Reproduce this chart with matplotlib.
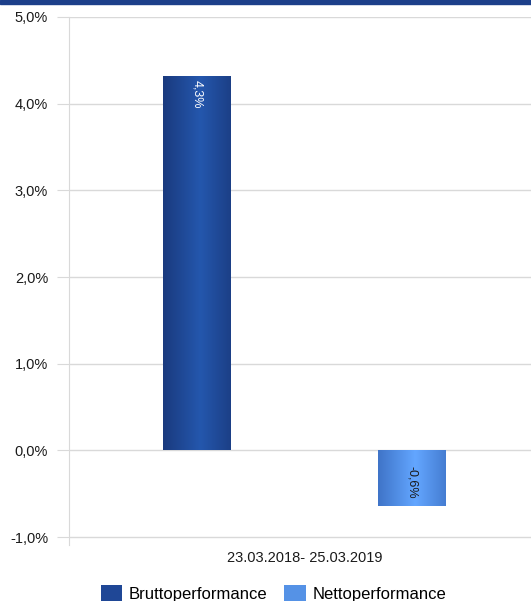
import numpy as np
import matplotlib
matplotlib.use("Agg")
import matplotlib.pyplot as plt
from matplotlib.colors import LinearSegmentedColormap
from matplotlib.patches import Patch, Rectangle

# Werte
period = "23.03.2018- 25.03.2019"
series = ["Bruttoperformance", "Nettoperformance"]
values = [4.32, -0.64]
yticks = [-1, 0, 1, 2, 3, 4, 5]

edge_cols = ["#1a3a7e", "#3f74c8"]
mid_cols = ["#2457ad", "#63a6ff"]
label_cols = ["white", "#1a1a1a"]
offsets = [-0.229, 0.226]
width = 0.142

plt.rcParams['font.family'] = ['Liberation Sans', 'DejaVu Sans']

fig = plt.figure(figsize=(5.31, 6.01), dpi=100)
ax = fig.add_axes([69/531, 56/601, 472/531, 528/601])

# dunkelblauer Balken oben
fig.patches.append(Rectangle((0, 1 - 4/601), 1, 4/601, transform=fig.transFigure,
                             color="#1c3f8a", zorder=0))

grad = np.linspace(0, 1, 200)
grad = 1 - np.abs(grad - 0.55) / 0.55
grad = np.clip(grad, 0, 1)[None, :]

for i, v in enumerate(values):
    x0 = offsets[i] - width / 2
    bar = ax.bar(offsets[i], v, width, color="none", zorder=2)[0]
    cmap = LinearSegmentedColormap.from_list("g%d" % i, [edge_cols[i], mid_cols[i]])
    img = ax.imshow(grad, cmap=cmap, aspect="auto", zorder=2,
                    extent=[x0, x0 + width, min(0, v), max(0, v)])
    img.set_clip_path(bar)
    txt = ("%.1f%%" % v).replace(".", ",")
    if v >= 0:
        ax.annotate(txt, (offsets[i], v), xytext=(0, -3), textcoords="offset points",
                    rotation=-90, ha="center", va="top", color=label_cols[i], fontsize=9)
    else:
        ax.annotate(txt, (offsets[i], 0), xytext=(0, -11), textcoords="offset points",
                    rotation=-90, ha="center", va="top", color=label_cols[i], fontsize=9)

ax.set_xlim(-0.5, 0.5)
ax.set_ylim(-1.09, 5)
ax.set_yticks(yticks)
ax.set_yticklabels([("%.1f%%" % t).replace(".", ",") for t in yticks], fontsize=10.5)
ax.grid(axis="y", color="#d9d9d9", lw=1, zorder=0)
ax.tick_params(axis="y", length=9, color="#d9d9d9", pad=6, labelcolor="#1a1a1a")

ax.set_xticks([0])
ax.set_xticklabels([period], fontsize=10.5, color="#1a1a1a")
ax.tick_params(axis="x", length=0, pad=4)

for s in ["top", "right", "bottom"]:
    ax.spines[s].set_visible(False)
ax.spines["left"].set_color("#d9d9d9")

handles = [Patch(facecolor=c, edgecolor="none") for c in ["#1f4796", "#5592e6"]]
fig.legend(handles, series, loc="lower center", bbox_to_anchor=(0.515, -0.027), ncol=2,
           frameon=False, fontsize=12, handlelength=1.3, handleheight=1.2,
           handletextpad=0.4, columnspacing=1.0)

fig.savefig("out.png", dpi=100)
